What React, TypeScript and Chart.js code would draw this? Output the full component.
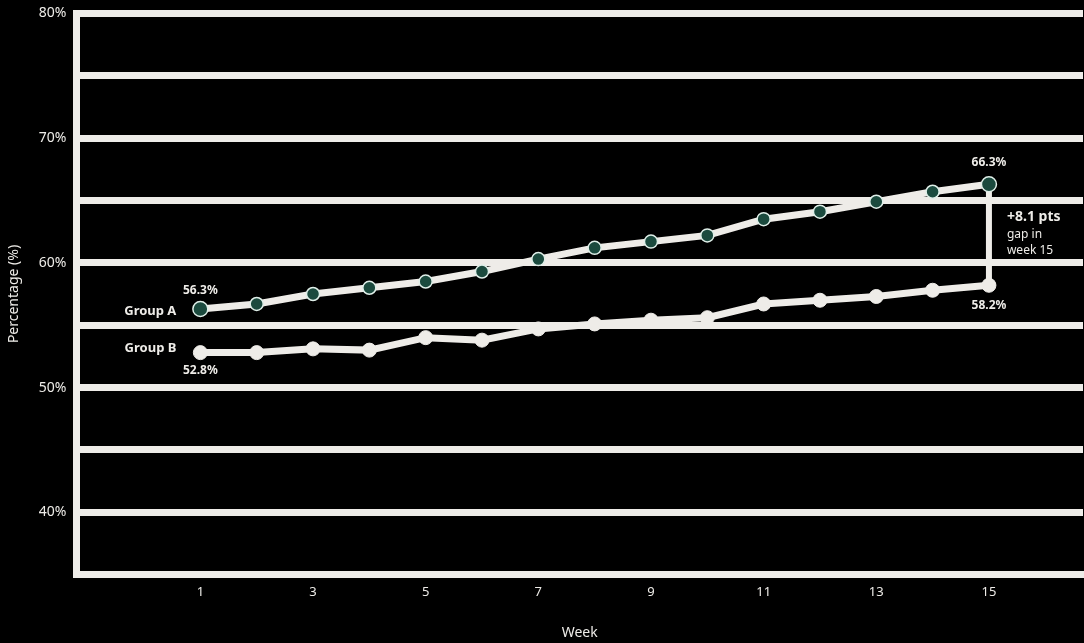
import React, { useEffect, useRef } from 'react';
import { Chart, registerables } from 'chart.js';

Chart.register(...registerables);

const weeks = [1, 2, 3, 4, 5, 6, 7, 8, 9, 10, 11, 12, 13, 14, 15];
const groupA = [56.3, 56.7, 57.5, 58.0, 58.5, 59.3, 60.3, 61.2, 61.7, 62.2, 63.5, 64.1, 64.9, 65.7, 66.3];
const groupB = [52.8, 52.8, 53.1, 53.0, 54.0, 53.8, 54.7, 55.1, 55.4, 55.6, 56.7, 57.0, 57.3, 57.8, 58.2];
const weekTicks = [1, 3, 5, 7, 9, 11, 13, 15];
const seriesNames = ['Group A', 'Group B'];

const LIGHT = '#eeece8';
const GREEN = '#1b4a3e';

const labelsPlugin = {
  id: 'endLabels',
  beforeDatasetsDraw(chart) {
    const { ctx } = chart;
    const a = chart.getDatasetMeta(0).data;
    const b = chart.getDatasetMeta(1).data;
    const last = a.length - 1;
    ctx.save();
    ctx.strokeStyle = LIGHT;
    ctx.lineWidth = 6;
    ctx.beginPath();
    ctx.moveTo(a[last].x, a[last].y);
    ctx.lineTo(b[last].x, b[last].y);
    ctx.stroke();
    ctx.restore();
  },
  afterDatasetsDraw(chart) {
    const { ctx } = chart;
    const a = chart.getDatasetMeta(0).data;
    const b = chart.getDatasetMeta(1).data;
    const last = a.length - 1;
    ctx.save();
    ctx.fillStyle = LIGHT;
    ctx.font = 'bold 12px "Noto Sans"';
    ctx.textAlign = 'center';
    ctx.textBaseline = 'middle';
    ctx.fillText(groupA[0].toFixed(1) + '%', a[0].x, a[0].y - 18);
    ctx.fillText(groupB[0].toFixed(1) + '%', b[0].x, b[0].y + 18);
    ctx.fillText(groupA[last].toFixed(1) + '%', a[last].x, a[last].y - 22);
    ctx.fillText(groupB[last].toFixed(1) + '%', b[last].x, b[last].y + 20);

    ctx.font = 'bold 13px "Noto Sans"';
    ctx.textAlign = 'right';
    ctx.fillText(seriesNames[0], a[0].x - 24, a[0].y + 2);
    ctx.fillText(seriesNames[1], b[0].x - 24, b[0].y - 4);

    const gap = groupA[last] - groupB[last];
    const midY = (a[last].y + b[last].y) / 2;
    ctx.textAlign = 'left';
    ctx.font = 'bold 14px "Noto Sans"';
    ctx.fillText('+' + gap.toFixed(1) + ' pts', a[last].x + 18, midY - 18);
    ctx.font = '12px "Noto Sans"';
    ctx.fillText('gap in', a[last].x + 18, midY);
    ctx.fillText('week 15', a[last].x + 18, midY + 16);
    ctx.restore();
  },
};

const App = () => {
  const chartRef = useRef<HTMLCanvasElement>(null);

  useEffect(() => {
    document.body.style.margin = '0';
    document.body.style.background = '#000';
    document.body.style.overflow = 'hidden';

    const chart = new Chart(chartRef.current, {
      type: 'line',
      data: {
        datasets: [
          {
            label: seriesNames[0],
            data: weeks.map((w, i) => ({ x: w, y: groupA[i] })),
            borderColor: LIGHT,
            borderWidth: 7,
            pointRadius: (c) => (c.dataIndex === 0 || c.dataIndex === weeks.length - 1 ? 7.5 : 6.5),
            pointBackgroundColor: GREEN,
            pointBorderColor: '#dfeee8',
            pointBorderWidth: 1.5,
          },
          {
            label: seriesNames[1],
            data: weeks.map((w, i) => ({ x: w, y: groupB[i] })),
            borderColor: LIGHT,
            borderWidth: 7,
            pointRadius: 7,
            pointBackgroundColor: LIGHT,
            pointBorderColor: LIGHT,
            pointBorderWidth: 1,
          },
        ],
      },
      options: {
        animation: false,
        responsive: true,
        maintainAspectRatio: false,
        layout: { padding: 0 },
        scales: {
          x: {
            type: 'linear',
            min: -1.2,
            max: 16.67,
            afterBuildTicks: (axis) => {
              axis.ticks = weekTicks.map((v) => ({ value: v }));
            },
            grid: { display: false },
            border: { display: true, color: LIGHT, width: 7 },
            ticks: {
              color: LIGHT,
              font: { size: 13, family: 'Noto Sans' },
              padding: 2,
              autoSkip: false,
              maxRotation: 0,
            },
            title: {
              display: true,
              text: 'Week',
              color: LIGHT,
              font: { size: 14, family: 'Noto Sans' },
              padding: { top: 22, bottom: 2 },
            },
          },
          y: {
            min: 35,
            max: 80,
            grid: { color: LIGHT, lineWidth: 7, drawTicks: false },
            border: { display: true, color: LIGHT, width: 7 },
            ticks: {
              stepSize: 5,
              color: LIGHT,
              padding: 10,
              font: { size: 14, family: 'Noto Sans' },
              callback: (v) => (Number(v) % 10 === 0 ? v + '%' : ''),
            },
            title: {
              display: true,
              text: 'Percentage (%)',
              color: LIGHT,
              font: { size: 14, family: 'Noto Sans' },
              padding: 6,
            },
          },
        },
        plugins: {
          legend: { display: false },
          tooltip: { enabled: false },
        },
      },
      plugins: [labelsPlugin],
    });

    return () => chart.destroy();
  }, []);

  return (
    <div style={{ width: 1084, height: 643, position: 'relative', overflow: 'hidden', background: '#000' }}>
      <div style={{ position: 'absolute', left: 0, top: -5, width: 1092, height: 648 }}>
        <canvas ref={chartRef} />
      </div>
    </div>
  );
};

export default App;
